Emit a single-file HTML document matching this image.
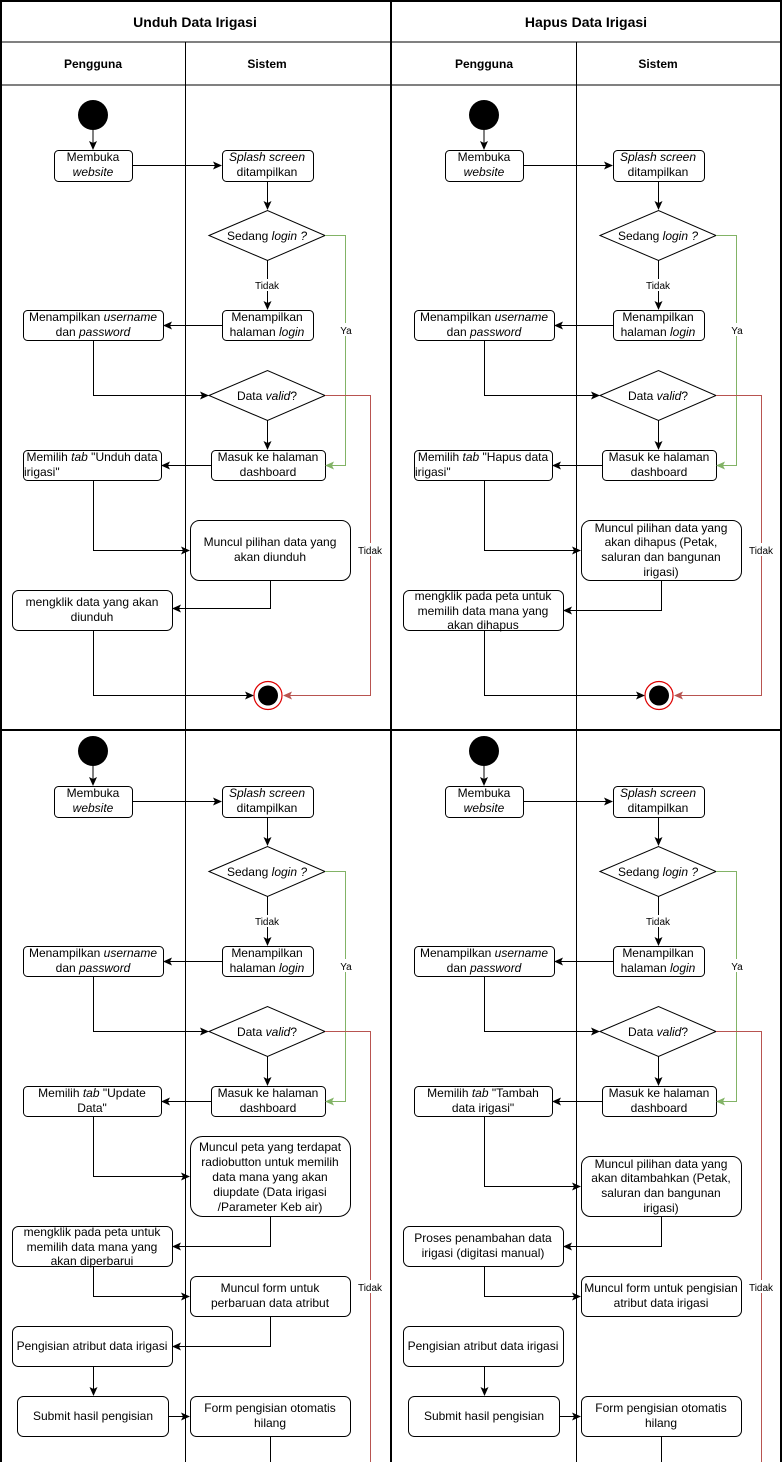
<!DOCTYPE html>
<html><head><meta charset="utf-8"><style>
html,body{margin:0;padding:0;background:#fff}
svg{display:block}
text{font-family:"Liberation Sans",sans-serif;font-size:12px;fill:#000;text-anchor:middle}
.b{font-weight:bold}
.i{font-style:italic}
.s{font-size:10px}
rect.n{fill:#fff;stroke:#000;stroke-width:1}
.l{fill:none;stroke:#000;stroke-width:1}
.g{fill:none;stroke:#82b366;stroke-width:1}
.r{fill:none;stroke:#b85450;stroke-width:1}
</style></head><body>
<svg width="782" height="1462" viewBox="0 0 782 1462" xmlns="http://www.w3.org/2000/svg">
<defs>
<marker id="a" markerWidth="10" markerHeight="10" refX="8" refY="4" orient="auto" markerUnits="userSpaceOnUse"><path d="M0,0 L9,4 L0,8 L2,4 Z" fill="#000"/></marker>
<marker id="ag" markerWidth="10" markerHeight="10" refX="8" refY="4" orient="auto" markerUnits="userSpaceOnUse"><path d="M0,0 L9,4 L0,8 L2,4 Z" fill="#82b366"/></marker>
<marker id="ar" markerWidth="10" markerHeight="10" refX="8" refY="4" orient="auto" markerUnits="userSpaceOnUse"><path d="M0,0 L9,4 L0,8 L2,4 Z" fill="#b85450"/></marker>
</defs>

<!-- frame -->
<rect x="1" y="1" width="780" height="1470" fill="none" stroke="#000" stroke-width="2"/>
<line x1="391" y1="0" x2="391" y2="1462" stroke="#000" stroke-width="2"/>
<line x1="0" y1="42" x2="782" y2="42" stroke="#000" stroke-width="1"/>
<line x1="0" y1="85" x2="782" y2="85" stroke="#000" stroke-width="1"/>
<line x1="0" y1="730" x2="782" y2="730" stroke="#000" stroke-width="2"/>
<line x1="185.5" y1="42" x2="185.5" y2="1462" stroke="#000"/>
<line x1="576.5" y1="42" x2="576.5" y2="1462" stroke="#000"/>
<text x="195" y="27" class="b" style="font-size:14px">Unduh Data Irigasi</text>
<text x="586" y="27" class="b" style="font-size:14px">Hapus Data Irigasi</text>
<text x="93" y="68" class="b">Pengguna</text>
<text x="267" y="68" class="b">Sistem</text>
<text x="484" y="68" class="b">Pengguna</text>
<text x="658" y="68" class="b">Sistem</text>

<!-- COMMON TOP-LEFT -->
<g transform="translate(0,0)">
<circle cx="93" cy="115" r="15"/>
<line class="l" x1="93" y1="130" x2="93" y2="149" marker-end="url(#a)"/>
<rect class="n" x="54.5" y="150.5" width="78" height="31" rx="4"/>
<text x="93" y="161">Membuka</text><text x="93" y="176" class="i">website</text>
<line class="l" x1="132" y1="165.5" x2="221" y2="165.5" marker-end="url(#a)"/>
<rect class="n" x="222.5" y="150.5" width="91" height="31" rx="4"/>
<text x="267" y="161" class="i">Splash screen</text><text x="267" y="176">ditampilkan</text>
<line class="l" x1="267.5" y1="181" x2="267.5" y2="209" marker-end="url(#a)"/>
<polygon class="l" style="fill:#fff" points="209,235.5 267.5,210.5 325,235.5 267.5,260.5"/>
<text x="267" y="240">Sedang <tspan class="i">login ?</tspan></text>
<line class="l" x1="267.5" y1="260" x2="267.5" y2="309" marker-end="url(#a)"/>
<rect x="253" y="279" width="29" height="12" fill="#fff"/><text x="267" y="289" class="s">Tidak</text>
<rect class="n" x="222.5" y="310.5" width="91" height="30" rx="4"/>
<text x="267" y="321">Menampilkan</text><text x="267" y="336">halaman <tspan class="i">login</tspan></text>
<line class="l" x1="222" y1="325.5" x2="164" y2="325.5" marker-end="url(#a)"/>
<rect class="n" x="23.5" y="310.5" width="140" height="30" rx="4"/>
<text x="93" y="321">Menampilkan <tspan class="i">username</tspan></text><text x="93" y="336">dan <tspan class="i">password</tspan></text>
<polyline class="l" points="93.5,340 93.5,395.5 208,395.5" marker-end="url(#a)"/>
<polygon class="l" style="fill:#fff" points="209,395.5 267.5,370.5 325,395.5 267.5,420.5"/>
<text x="267" y="400">Data <tspan class="i">valid</tspan>?</text>
<line class="l" x1="267.5" y1="420" x2="267.5" y2="449" marker-end="url(#a)"/>
<rect class="n" x="211.5" y="450.5" width="114" height="30" rx="4"/>
<text x="268" y="461">Masuk ke halaman</text><text x="268" y="476">dashboard</text>
<line class="l" x1="211" y1="465.5" x2="162" y2="465.5" marker-end="url(#a)"/>
<polyline class="g" points="325,235.5 345.5,235.5 345.5,465.5 326,465.5" marker-end="url(#ag)"/>
<rect x="339" y="323" width="14" height="13" fill="#fff"/><text x="346" y="334" class="s">Ya</text>
</g>

<!-- COMMON TOP-RIGHT -->
<g transform="translate(391,0)">
<circle cx="93" cy="115" r="15"/>
<line class="l" x1="93" y1="130" x2="93" y2="149" marker-end="url(#a)"/>
<rect class="n" x="54.5" y="150.5" width="78" height="31" rx="4"/>
<text x="93" y="161">Membuka</text><text x="93" y="176" class="i">website</text>
<line class="l" x1="132" y1="165.5" x2="221" y2="165.5" marker-end="url(#a)"/>
<rect class="n" x="222.5" y="150.5" width="91" height="31" rx="4"/>
<text x="267" y="161" class="i">Splash screen</text><text x="267" y="176">ditampilkan</text>
<line class="l" x1="267.5" y1="181" x2="267.5" y2="209" marker-end="url(#a)"/>
<polygon class="l" style="fill:#fff" points="209,235.5 267.5,210.5 325,235.5 267.5,260.5"/>
<text x="267" y="240">Sedang <tspan class="i">login ?</tspan></text>
<line class="l" x1="267.5" y1="260" x2="267.5" y2="309" marker-end="url(#a)"/>
<rect x="253" y="279" width="29" height="12" fill="#fff"/><text x="267" y="289" class="s">Tidak</text>
<rect class="n" x="222.5" y="310.5" width="91" height="30" rx="4"/>
<text x="267" y="321">Menampilkan</text><text x="267" y="336">halaman <tspan class="i">login</tspan></text>
<line class="l" x1="222" y1="325.5" x2="164" y2="325.5" marker-end="url(#a)"/>
<rect class="n" x="23.5" y="310.5" width="140" height="30" rx="4"/>
<text x="93" y="321">Menampilkan <tspan class="i">username</tspan></text><text x="93" y="336">dan <tspan class="i">password</tspan></text>
<polyline class="l" points="93.5,340 93.5,395.5 208,395.5" marker-end="url(#a)"/>
<polygon class="l" style="fill:#fff" points="209,395.5 267.5,370.5 325,395.5 267.5,420.5"/>
<text x="267" y="400">Data <tspan class="i">valid</tspan>?</text>
<line class="l" x1="267.5" y1="420" x2="267.5" y2="449" marker-end="url(#a)"/>
<rect class="n" x="211.5" y="450.5" width="114" height="30" rx="4"/>
<text x="268" y="461">Masuk ke halaman</text><text x="268" y="476">dashboard</text>
<line class="l" x1="211" y1="465.5" x2="162" y2="465.5" marker-end="url(#a)"/>
<polyline class="g" points="325,235.5 345.5,235.5 345.5,465.5 326,465.5" marker-end="url(#ag)"/>
<rect x="339" y="323" width="14" height="13" fill="#fff"/><text x="346" y="334" class="s">Ya</text>
</g>

<!-- COMMON BOTTOM-LEFT -->
<g transform="translate(0,636)">
<circle cx="93" cy="115" r="15"/>
<line class="l" x1="93" y1="130" x2="93" y2="149" marker-end="url(#a)"/>
<rect class="n" x="54.5" y="150.5" width="78" height="31" rx="4"/>
<text x="93" y="161">Membuka</text><text x="93" y="176" class="i">website</text>
<line class="l" x1="132" y1="165.5" x2="221" y2="165.5" marker-end="url(#a)"/>
<rect class="n" x="222.5" y="150.5" width="91" height="31" rx="4"/>
<text x="267" y="161" class="i">Splash screen</text><text x="267" y="176">ditampilkan</text>
<line class="l" x1="267.5" y1="181" x2="267.5" y2="209" marker-end="url(#a)"/>
<polygon class="l" style="fill:#fff" points="209,235.5 267.5,210.5 325,235.5 267.5,260.5"/>
<text x="267" y="240">Sedang <tspan class="i">login ?</tspan></text>
<line class="l" x1="267.5" y1="260" x2="267.5" y2="309" marker-end="url(#a)"/>
<rect x="253" y="279" width="29" height="12" fill="#fff"/><text x="267" y="289" class="s">Tidak</text>
<rect class="n" x="222.5" y="310.5" width="91" height="30" rx="4"/>
<text x="267" y="321">Menampilkan</text><text x="267" y="336">halaman <tspan class="i">login</tspan></text>
<line class="l" x1="222" y1="325.5" x2="164" y2="325.5" marker-end="url(#a)"/>
<rect class="n" x="23.5" y="310.5" width="140" height="30" rx="4"/>
<text x="93" y="321">Menampilkan <tspan class="i">username</tspan></text><text x="93" y="336">dan <tspan class="i">password</tspan></text>
<polyline class="l" points="93.5,340 93.5,395.5 208,395.5" marker-end="url(#a)"/>
<polygon class="l" style="fill:#fff" points="209,395.5 267.5,370.5 325,395.5 267.5,420.5"/>
<text x="267" y="400">Data <tspan class="i">valid</tspan>?</text>
<line class="l" x1="267.5" y1="420" x2="267.5" y2="449" marker-end="url(#a)"/>
<rect class="n" x="211.5" y="450.5" width="114" height="30" rx="4"/>
<text x="268" y="461">Masuk ke halaman</text><text x="268" y="476">dashboard</text>
<line class="l" x1="211" y1="465.5" x2="162" y2="465.5" marker-end="url(#a)"/>
<polyline class="g" points="325,235.5 345.5,235.5 345.5,465.5 326,465.5" marker-end="url(#ag)"/>
<rect x="339" y="323" width="14" height="13" fill="#fff"/><text x="346" y="334" class="s">Ya</text>
</g>

<!-- COMMON BOTTOM-RIGHT -->
<g transform="translate(391,636)">
<circle cx="93" cy="115" r="15"/>
<line class="l" x1="93" y1="130" x2="93" y2="149" marker-end="url(#a)"/>
<rect class="n" x="54.5" y="150.5" width="78" height="31" rx="4"/>
<text x="93" y="161">Membuka</text><text x="93" y="176" class="i">website</text>
<line class="l" x1="132" y1="165.5" x2="221" y2="165.5" marker-end="url(#a)"/>
<rect class="n" x="222.5" y="150.5" width="91" height="31" rx="4"/>
<text x="267" y="161" class="i">Splash screen</text><text x="267" y="176">ditampilkan</text>
<line class="l" x1="267.5" y1="181" x2="267.5" y2="209" marker-end="url(#a)"/>
<polygon class="l" style="fill:#fff" points="209,235.5 267.5,210.5 325,235.5 267.5,260.5"/>
<text x="267" y="240">Sedang <tspan class="i">login ?</tspan></text>
<line class="l" x1="267.5" y1="260" x2="267.5" y2="309" marker-end="url(#a)"/>
<rect x="253" y="279" width="29" height="12" fill="#fff"/><text x="267" y="289" class="s">Tidak</text>
<rect class="n" x="222.5" y="310.5" width="91" height="30" rx="4"/>
<text x="267" y="321">Menampilkan</text><text x="267" y="336">halaman <tspan class="i">login</tspan></text>
<line class="l" x1="222" y1="325.5" x2="164" y2="325.5" marker-end="url(#a)"/>
<rect class="n" x="23.5" y="310.5" width="140" height="30" rx="4"/>
<text x="93" y="321">Menampilkan <tspan class="i">username</tspan></text><text x="93" y="336">dan <tspan class="i">password</tspan></text>
<polyline class="l" points="93.5,340 93.5,395.5 208,395.5" marker-end="url(#a)"/>
<polygon class="l" style="fill:#fff" points="209,395.5 267.5,370.5 325,395.5 267.5,420.5"/>
<text x="267" y="400">Data <tspan class="i">valid</tspan>?</text>
<line class="l" x1="267.5" y1="420" x2="267.5" y2="449" marker-end="url(#a)"/>
<rect class="n" x="211.5" y="450.5" width="114" height="30" rx="4"/>
<text x="268" y="461">Masuk ke halaman</text><text x="268" y="476">dashboard</text>
<line class="l" x1="211" y1="465.5" x2="162" y2="465.5" marker-end="url(#a)"/>
<polyline class="g" points="325,235.5 345.5,235.5 345.5,465.5 326,465.5" marker-end="url(#ag)"/>
<rect x="339" y="323" width="14" height="13" fill="#fff"/><text x="346" y="334" class="s">Ya</text>
</g>

<!-- TOP-LEFT specific -->
<rect class="n" x="23.5" y="450.5" width="138" height="30" rx="4"/>
<text x="92" y="461">Memilih <tspan class="i">tab</tspan> "Unduh data</text><text x="92" y="476" style="text-anchor:start" dx="-68">irigasi"</text>
<polyline class="l" points="93.5,480 93.5,550.5 189,550.5" marker-end="url(#a)"/>
<rect class="n" x="190.5" y="520.5" width="160" height="60" rx="9"/>
<text x="270" y="546">Muncul pilihan data yang</text><text x="270" y="561">akan diunduh</text>
<polyline class="l" points="270.5,580 270.5,608.5 173,608.5" marker-end="url(#a)"/>
<rect class="n" x="12.5" y="590.5" width="160" height="40" rx="6"/>
<text x="92" y="606">mengklik data yang akan</text><text x="92" y="621">diunduh</text>
<polyline class="l" points="93.5,630 93.5,695.5 253,695.5" marker-end="url(#a)"/>
<polyline class="r" points="325,395.5 370.5,395.5 370.5,695.5 284,695.5" marker-end="url(#ar)"/>
<rect x="356" y="543" width="28" height="13" fill="#fff"/><text x="370" y="554" class="s">Tidak</text>
<circle cx="268" cy="695.5" r="14" fill="#fff" stroke="#d00" stroke-width="1.2"/>
<circle cx="268" cy="695.5" r="10" fill="#000"/>

<!-- TOP-RIGHT specific -->
<rect class="n" x="414.5" y="450.5" width="138" height="30" rx="4"/>
<text x="483" y="461">Memilih <tspan class="i">tab</tspan> "Hapus data</text><text x="415" y="476" style="text-anchor:start">irigasi"</text>
<polyline class="l" points="484.5,480 484.5,550.5 580,550.5" marker-end="url(#a)"/>
<rect class="n" x="581.5" y="520.5" width="160" height="60" rx="9"/>
<text x="661" y="532">Muncul pilihan data yang</text><text x="661" y="546">akan dihapus (Petak,</text><text x="661" y="561">saluran dan bangunan</text><text x="661" y="576">irigasi)</text>
<polyline class="l" points="661.5,580 661.5,610.5 564,610.5" marker-end="url(#a)"/>
<rect class="n" x="403.5" y="590.5" width="160" height="40" rx="6"/>
<text x="483" y="600">mengklik pada peta untuk</text><text x="483" y="615">memilih data mana yang</text><text x="483" y="629">akan dihapus</text>
<polyline class="l" points="484.5,630 484.5,695.5 644,695.5" marker-end="url(#a)"/>
<polyline class="r" points="716,395.5 761.5,395.5 761.5,695.5 675,695.5" marker-end="url(#ar)"/>
<rect x="747" y="543" width="28" height="13" fill="#fff"/><text x="761" y="554" class="s">Tidak</text>
<circle cx="659" cy="695.5" r="14" fill="#fff" stroke="#d00" stroke-width="1.2"/>
<circle cx="659" cy="695.5" r="10" fill="#000"/>

<!-- BOTTOM-LEFT specific -->
<rect class="n" x="23.5" y="1086.5" width="138" height="30" rx="4"/>
<text x="92" y="1097">Memilih <tspan class="i">tab</tspan> "Update</text><text x="92" y="1112">Data"</text>
<polyline class="l" points="93.5,1116 93.5,1176.5 189,1176.5" marker-end="url(#a)"/>
<rect class="n" x="190.5" y="1136.5" width="160" height="80" rx="12"/>
<text x="270" y="1151">Muncul peta yang terdapat</text><text x="270" y="1166">radiobutton untuk memilih</text><text x="270" y="1181">data mana yang akan</text><text x="270" y="1196">diupdate (Data irigasi</text><text x="270" y="1211">/Parameter Keb air)</text>
<polyline class="l" points="270.5,1216 270.5,1246.5 173,1246.5" marker-end="url(#a)"/>
<rect class="n" x="12.5" y="1226.5" width="160" height="40" rx="6"/>
<text x="92" y="1236">mengklik pada peta untuk</text><text x="92" y="1251">memilih data mana yang</text><text x="92" y="1265">akan diperbarui</text>
<polyline class="l" points="93.5,1266 93.5,1296.5 189,1296.5" marker-end="url(#a)"/>
<rect class="n" x="190.5" y="1276.5" width="160" height="40" rx="6"/>
<text x="270" y="1292">Muncul form untuk</text><text x="270" y="1307">perbaruan data atribut</text>
<polyline class="l" points="270.5,1316 270.5,1346.5 173,1346.5" marker-end="url(#a)"/>
<rect class="n" x="12.5" y="1326.5" width="160" height="40" rx="6"/>
<text x="92" y="1350">Pengisian atribut data irigasi</text>
<line class="l" x1="93.5" y1="1366" x2="93.5" y2="1395" marker-end="url(#a)"/>
<rect class="n" x="17.5" y="1396.5" width="151" height="40" rx="6"/>
<text x="93" y="1420">Submit hasil pengisian</text>
<line class="l" x1="168" y1="1416.5" x2="189" y2="1416.5" marker-end="url(#a)"/>
<rect class="n" x="190.5" y="1396.5" width="160" height="40" rx="6"/>
<text x="270" y="1412">Form pengisian otomatis</text><text x="270" y="1427">hilang</text>
<line class="l" x1="270.5" y1="1436" x2="270.5" y2="1462"/>
<polyline class="r" points="325,1031.5 370.5,1031.5 370.5,1462"/>
<rect x="356" y="1280" width="28" height="13" fill="#fff"/><text x="370" y="1291" class="s">Tidak</text>

<!-- BOTTOM-RIGHT specific -->
<rect class="n" x="414.5" y="1086.5" width="138" height="30" rx="4"/>
<text x="483" y="1097">Memilih <tspan class="i">tab</tspan> "Tambah</text><text x="483" y="1112">data irigasi"</text>
<polyline class="l" points="484.5,1116 484.5,1186.5 580,1186.5" marker-end="url(#a)"/>
<rect class="n" x="581.5" y="1156.5" width="160" height="60" rx="9"/>
<text x="661" y="1168">Muncul pilihan data yang</text><text x="661" y="1182">akan ditambahkan (Petak,</text><text x="661" y="1197">saluran dan bangunan</text><text x="661" y="1212">irigasi)</text>
<polyline class="l" points="661.5,1216 661.5,1246.5 564,1246.5" marker-end="url(#a)"/>
<rect class="n" x="403.5" y="1226.5" width="160" height="40" rx="6"/>
<text x="483" y="1242">Proses penambahan data</text><text x="483" y="1257">irigasi (digitasi manual)</text>
<polyline class="l" points="484.5,1266 484.5,1296.5 580,1296.5" marker-end="url(#a)"/>
<rect class="n" x="581.5" y="1276.5" width="160" height="40" rx="6"/>
<text x="661" y="1292">Muncul form untuk pengisian</text><text x="661" y="1307">atribut data irigasi</text>
<rect class="n" x="403.5" y="1326.5" width="160" height="40" rx="6"/>
<text x="483" y="1350">Pengisian atribut data irigasi</text>
<line class="l" x1="484.5" y1="1366" x2="484.5" y2="1395" marker-end="url(#a)"/>
<rect class="n" x="408.5" y="1396.5" width="151" height="40" rx="6"/>
<text x="484" y="1420">Submit hasil pengisian</text>
<line class="l" x1="559" y1="1416.5" x2="580" y2="1416.5" marker-end="url(#a)"/>
<rect class="n" x="581.5" y="1396.5" width="160" height="40" rx="6"/>
<text x="661" y="1412">Form pengisian otomatis</text><text x="661" y="1427">hilang</text>
<line class="l" x1="661.5" y1="1436" x2="661.5" y2="1462"/>
<polyline class="r" points="716,1031.5 761.5,1031.5 761.5,1462"/>
<rect x="747" y="1280" width="28" height="13" fill="#fff"/><text x="761" y="1291" class="s">Tidak</text>
</svg>
</body></html>
